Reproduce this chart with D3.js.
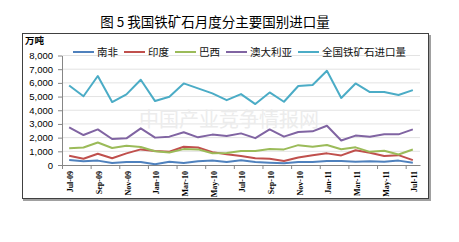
<!DOCTYPE html>
<html lang="zh">
<head>
<meta charset="UTF-8">
<title>图 5 我国铁矿石月度分主要国别进口量</title>
<script src="https://d3js.org/d3.v7.min.js"></script>
<style>
  body { margin: 0; background: #fff; }
  svg { display: block; }
  .axis path, .axis line { stroke: #868686; }
  .axis_y text { font-family: "Liberation Sans", Arial, sans-serif; font-size: 9.5px; fill: #000; }
  .axis_x text { font-family: "Liberation Serif", serif; font-weight: bold; font-size: 8px; fill: #000; }
  .legend text { font-family: "Noto Sans CJK SC", sans-serif; font-size: 10.5px; fill: #111; }
</style>
</head>
<body>
<svg width="459" height="242"></svg>
<script>
// months, Jul-09 .. Jul-11
const months = ["Jul-09", "Aug-09", "Sep-09", "Oct-09", "Nov-09", "Dec-09",
  "Jan-10", "Feb-10", "Mar-10", "Apr-10", "May-10", "Jun-10",
  "Jul-10", "Aug-10", "Sep-10", "Oct-10", "Nov-10", "Dec-10",
  "Jan-11", "Feb-11", "Mar-11", "Apr-11", "May-11", "Jun-11", "Jul-11"];

// 万吨
const southAfrica = [360, 270, 320, 150, 220, 220, 50, 240, 150, 270, 320, 220,
  340, 220, 170, 120, 220, 220, 290, 290, 240, 270, 240, 320, 170];
const india = [680, 460, 820, 490, 850, 1140, 1030, 970, 1330, 1280, 940, 780,
  660, 500, 450, 290, 550, 720, 850, 700, 1080, 900, 660, 720, 360];
const brazil = [1220, 1280, 1640, 1240, 1410, 1320, 1010, 910, 1160, 1140, 860, 880,
  1020, 1020, 1170, 1140, 1450, 1330, 1460, 1150, 1290, 960, 1040, 770, 1130];
const australia = [2750, 2190, 2600, 1900, 1950, 2680, 2000, 2070, 2390, 2020, 2220, 2120,
  2310, 1960, 2600, 2070, 2410, 2460, 2870, 1790, 2150, 2070, 2240, 2240, 2600];
const nationalTotal = [5810, 5020, 6500, 4600, 5160, 6230, 4670, 4990, 5960, 5600, 5230, 4740,
  5180, 4450, 5300, 4620, 5770, 5840, 6880, 4900, 5960, 5330, 5340, 5110, 5470];

const yTicks = [0, 1000, 2000, 3000, 4000, 5000, 6000, 7000, 8000];

const series = [
  { name: "南非", color: "#4f81bd", values: southAfrica },
  { name: "印度", color: "#c0504d", values: india },
  { name: "巴西", color: "#9bbb59", values: brazil },
  { name: "澳大利亚", color: "#8064a2", values: australia },
  { name: "全国铁矿石进口量", color: "#4bacc6", values: nationalTotal }
];

let svg = d3.select("svg");

// title
svg.append("text")
  .attr("x", 215).attr("y", 27)
  .attr("text-anchor", "middle")
  .style("font-family", "'Noto Sans CJK SC', sans-serif")
  .style("font-size", "13.5px")
  .text("图 5 我国铁矿石月度分主要国别进口量");

// chart frame with a little shadow
svg.append("path")
  .attr("d", "M430,35 V200 H23")
  .attr("fill", "none").attr("stroke", "#a0a0a0").attr("stroke-width", 2);
svg.append("rect")
  .attr("x", 22.5).attr("y", 33.5).attr("width", 406).attr("height", 165)
  .attr("fill", "#fff").attr("stroke", "#404040");

// unit
svg.append("text")
  .attr("x", 25).attr("y", 44)
  .style("font-family", "'Noto Sans CJK SC', sans-serif")
  .style("font-size", "9.5px").style("font-weight", "bold")
  .text("万吨");

let x = d3.scaleBand().domain(months).range([62, 420]);
let xi = d3.scaleLinear().domain([0, months.length]).range([62, 420]);
let y = d3.scaleLinear().domain([0, 8000]).range([165, 55.5]);
let cx = m => x(m) + x.bandwidth() / 2;

// grid
svg.append("g")
  .selectAll("line")
  .data(yTicks.slice(1))
  .enter()
  .append("line")
  .attr("x1", 62).attr("x2", 420)
  .attr("y1", d => y(d)).attr("y2", d => y(d))
  .attr("stroke", "#e3e3e3");

// watermark
svg.append("text")
  .attr("x", 229).attr("y", 127)
  .attr("text-anchor", "middle")
  .style("font-family", "'Noto Sans CJK SC', serif")
  .style("font-size", "20px")
  .style("fill", "#ececec")
  .text("中国产业竞争情报网");

// y axis
svg.append("g")
  .attr("class", "axis axis_y")
  .attr("transform", "translate(62,0)")
  .call(d3.axisLeft(y).tickValues(yTicks).tickFormat(d3.format(",")).tickSize(4).tickSizeOuter(0).tickPadding(5));

// x axis: tick marks between categories
svg.append("g")
  .attr("class", "axis axis_x")
  .attr("transform", "translate(0,165)")
  .call(d3.axisBottom(xi).tickValues(d3.range(0, months.length, 2)).tickFormat("").tickSize(4).tickSizeOuter(0));

// x labels every 2 months, rotated
svg.append("g")
  .attr("class", "axis axis_x")
  .attr("transform", "translate(0,165)")
  .call(d3.axisBottom(x).tickValues(months.filter((m, i) => i % 2 === 0)).tickSize(0))
  .call(a => a.select(".domain").remove())
  .selectAll("text")
  .attr("transform", "rotate(-90)")
  .attr("x", -6)
  .attr("y", 1.5)
  .attr("dy", "0.35em")
  .style("text-anchor", "end");

// lines
let line = d3.line()
  .x((v, i) => cx(months[i]))
  .y(v => y(v));

svg.append("g")
  .selectAll("path")
  .data(series)
  .enter()
  .append("path")
  .attr("d", s => line(s.values))
  .attr("fill", "none")
  .attr("stroke", s => s.color)
  .attr("stroke-width", 2)
  .attr("stroke-linejoin", "round");

// legend
let legend = svg.append("g").attr("class", "legend").attr("transform", "translate(0,52)");
let lx = 73;
series.forEach(function (s) {
  legend.append("line")
    .attr("x1", lx).attr("x2", lx + 21)
    .attr("stroke", s.color).attr("stroke-width", 2);
  let t = legend.append("text")
    .attr("x", lx + 24).attr("dy", "0.35em")
    .text(s.name);
  lx += 24 + t.node().getComputedTextLength() + 6;
});
</script>
</body>
</html>
